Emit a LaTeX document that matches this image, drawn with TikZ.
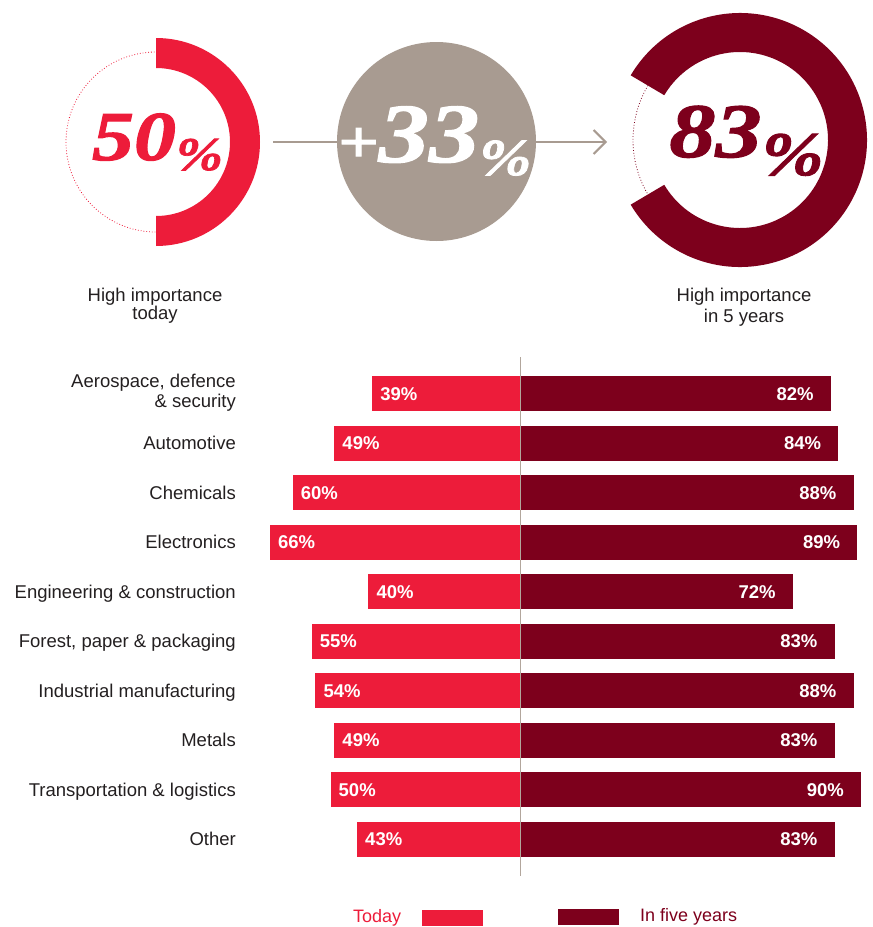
\documentclass[tikz,border=0pt]{standalone}
\usepackage{fontspec}
\setmainfont{Liberation Sans}
\newfontfamily\numfont[FakeStretch=1.2, FakeBold=1.5]{Liberation Serif Bold Italic}
\usetikzlibrary{arrows.meta,calc}
\definecolor{todayc}{RGB}{237,28,58}
\definecolor{fivec}{RGB}{125,0,28}
\definecolor{greyc}{RGB}{168,155,145}
\definecolor{axisc}{RGB}{178,166,156}
\definecolor{labc}{RGB}{35,31,32}
\tikzset{
  bignum/.style={inner sep=0pt, anchor=base, font=\numfont},
  catlab/.style={inner sep=0pt, text=labc, font=\fontsize{18.5}{20}\selectfont},
  barlab/.style={inner sep=0pt, text=white, font=\fontsize{18.5}{20}\selectfont\bfseries},
  arrowline/.style={draw=greyc, line width=2pt, -{Straight Barb[length=12pt,width=24pt,line width=2pt]}},
  axisline/.style={draw=axisc, line width=1pt},
  legbox/.style={inner sep=0pt, minimum width=61pt, minimum height=15.5pt},
}
\begin{document}
\begin{tikzpicture}[x=1pt,y=1pt]
\useasboundingbox (0,0) rectangle (873,-927);
% ---------- left ring (today) ----------
\draw[todayc, line width=0.8pt, dotted] (156,-142) circle[radius=90];
\fill[todayc] (156,-142) ++(90:104) arc[start angle=90, end angle=-90, radius=104]
  -- ++(0,30) arc[start angle=-90, end angle=90, radius=74] -- cycle;
% ---------- right ring (five years) ----------
\draw[fivec, line width=0.8pt, dotted] (740,-140) ++(149.4:107) arc[start angle=149.4, end angle=210.6, radius=107];
\fill[fivec] ($(740,-140)+(149.4:127)$) arc[start angle=149.4, end angle=-149.4, radius=127]
  -- ($(740,-140)+(-149.4:88)$) arc[start angle=-149.4, end angle=149.4, radius=88] -- cycle;
% ---------- arrow and middle circle ----------
\coordinate (a1) at (273,-142);
\coordinate (a2) at (607,-142);
\draw[arrowline] (a1) -- (a2);
\node[circle, fill=greyc, minimum size=199pt, inner sep=0pt] (mid) at (436.5,-141.5) {};
% ---------- big numbers ----------
\node[bignum, text=todayc] (n50) at (157.5,-160)
  {\fontsize{70}{70}\selectfont 50\raisebox{-10pt}{\fontsize{47}{47}\selectfont\%}};
\node[bignum, text=white] (n33) at (434.5,-162)
  {{\fontsize{60}{60}\selectfont +}\fontsize{84}{84}\selectfont 33\raisebox{-13pt}{\fontsize{52}{52}\selectfont\%}};
\node[bignum, text=fivec] (n83) at (746.5,-157)
  {\fontsize{77}{77}\selectfont 83\raisebox{-18pt}{\fontsize{62}{62}\selectfont\%}};
% ---------- captions ----------
\node[inner sep=0pt, text=labc, align=center, anchor=north, font=\fontsize{18.5}{15.5}\selectfont] (capl) at (155,-288) {High importance\\today};
\node[inner sep=0pt, text=labc, align=center, anchor=north, font=\fontsize{18.5}{21}\selectfont] (capr) at (744,-288) {High importance\\in 5 years};
% ---------- bars ----------
\foreach \i/\a/\b in {0/39/82,1/49/84,2/60/88,3/66/89,4/40/72,5/55/83,6/54/88,7/49/83,8/50/90,9/43/83} {
  \pgfmathsetmacro\yc{-(393.5+49.5*\i)}
  \pgfmathsetmacro\xl{520-3.79*\a}
  \pgfmathsetmacro\xr{520+3.79*\b}
  \fill[todayc] (\xl,\yc+17.5) rectangle (520,\yc-17.5);
  \fill[fivec] (520,\yc+17.5) rectangle (\xr,\yc-17.5);
  \node[barlab, anchor=base west] (t\i) at (\xl+8,\yc-6.5) {\a\%};
  \node[barlab, anchor=base east] (f\i) at (\xr-17,\yc-6.5) {\b\%};
}
% ---------- category labels ----------
\node[catlab, align=right, anchor=north east] (c0) at (236,-373.5) {Aerospace, defence\\\& security};
\foreach \i/\lab in {1/Automotive,2/Chemicals,3/Electronics,4/Engineering \& construction,5/{Forest, paper \& packaging},6/Industrial manufacturing,7/Metals,8/Transportation \& logistics,9/Other} {
  \node[catlab, anchor=base east] (c\i) at (236,{-(393.5+49.5*\i)-6.5}) {\lab};
}
% ---------- axis ----------
\coordinate (ax1) at (520,-357);
\coordinate (ax2) at (520,-876);
\draw[axisline] (ax1) -- (ax2);
% ---------- legend ----------
\node[inner sep=0pt, anchor=base west, text=todayc, font=\fontsize{18}{20}\selectfont] (lgt) at (353,-922) {Today};
\node[legbox, fill=todayc, anchor=north west] (lgtb) at (422,-910) {};
\node[legbox, fill=fivec, anchor=north west] (lgfb) at (558,-909) {};
\node[inner sep=0pt, anchor=base west, text=fivec, font=\fontsize{18}{20}\selectfont] (lgf) at (640,-921) {In five years};
\end{tikzpicture}
\end{document}
